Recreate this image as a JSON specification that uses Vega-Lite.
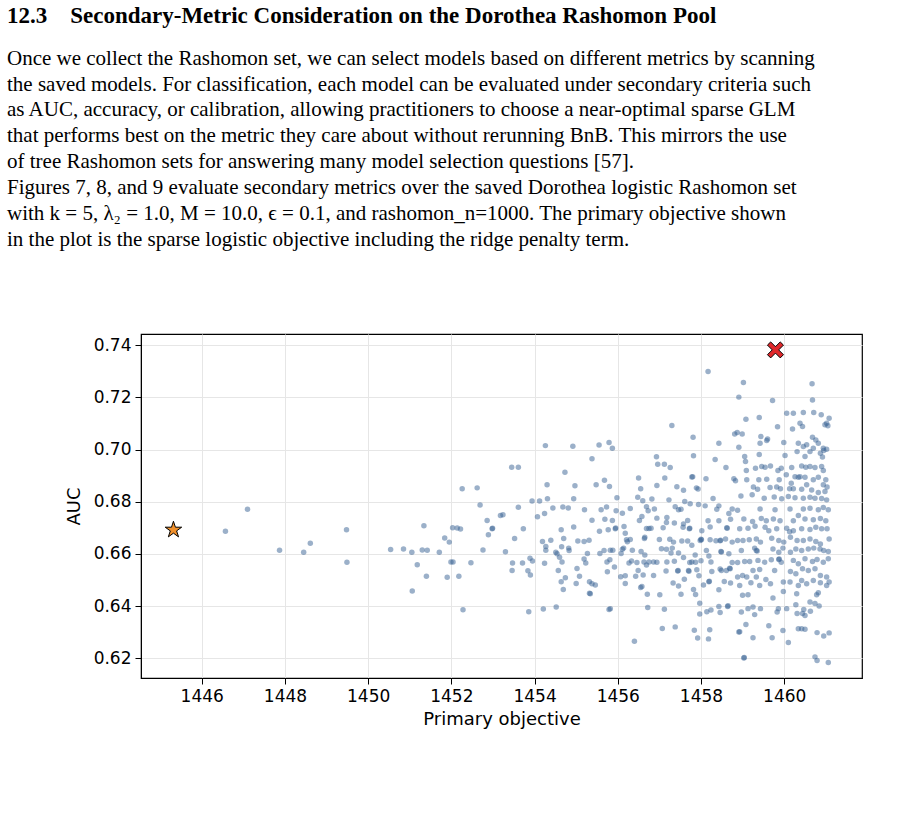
{
  "$schema": "https://vega.github.io/schema/vega-lite/v6.json",
  "background": "white",
  "padding": {"left": 7, "top": 4, "right": 5, "bottom": 5},
  "width": 721,
  "height": 344,
  "title": {
    "text": "12.3\u00a0\u00a0\u00a0\u00a0Secondary-Metric Consideration on the Dorothea Rashomon Pool",
    "subtitle": [
      "Once we collect the Rashomon set, we can select models based on different metrics by scanning",
      "the saved models. For classification, each model can be evaluated under secondary criteria such",
      "as AUC, accuracy, or calibration, allowing practitioners to choose a near-optimal sparse GLM",
      "that performs best on the metric they care about without rerunning BnB. This mirrors the use",
      "of tree Rashomon sets for answering many model selection questions [57].",
      "\u00a0\u00a0\u00a0\u00a0\u00a0\u00a0\u00a0Figures 7, 8, and 9 evaluate secondary metrics over the saved Dorothea logistic Rashomon set",
      "with k = 5, λ₂ = 1.0, M = 10.0, ϵ = 0.1, and rashomon_n=1000. The primary objective shown",
      "in the plot is the sparse logistic objective including the ridge penalty term."
    ],
    "anchor": "start",
    "frame": "group",
    "dx": -134,
    "offset": 84,
    "font": "Liberation Serif",
    "fontSize": 23,
    "fontWeight": "bold",
    "color": "black",
    "subtitleFont": "Liberation Serif",
    "subtitleFontSize": 21,
    "subtitleColor": "black",
    "subtitleLineHeight": 25.9,
    "subtitlePadding": 20
  },
  "config": {
    "view": {"stroke": "black", "strokeWidth": 1.2},
    "axis": {
      "labelFont": "DejaVu Sans",
      "titleFont": "DejaVu Sans",
      "labelFontSize": 17,
      "titleFontSize": 18,
      "titleFontWeight": "normal",
      "labelColor": "black",
      "titleColor": "black",
      "domainColor": "black",
      "tickColor": "black",
      "tickSize": 6,
      "gridColor": "#e6e6e6",
      "gridWidth": 1,
      "labelPadding": 4,
      "titlePadding": 6
    }
  },
  "datasets": {
    "pool": [
      {"objective":1446.57,"auc":0.6687},{"objective":1447.10,"auc":0.6771},{"objective":1447.87,"auc":0.6614},{"objective":1448.45,"auc":0.6606},
      {"objective":1448.61,"auc":0.6641},{"objective":1449.48,"auc":0.6692},{"objective":1449.49,"auc":0.6568},{"objective":1450.54,"auc":0.6617},
      {"objective":1450.85,"auc":0.6619},{"objective":1451.05,"auc":0.6606},{"objective":1451.18,"auc":0.6558},{"objective":1451.06,"auc":0.6458},
      {"objective":1451.34,"auc":0.6708},{"objective":1451.30,"auc":0.6615},{"objective":1451.42,"auc":0.6614},{"objective":1451.40,"auc":0.6514},
      {"objective":1451.71,"auc":0.6606},{"objective":1451.84,"auc":0.6661},{"objective":1451.95,"auc":0.6645},{"objective":1452.03,"auc":0.6700},
      {"objective":1452.14,"auc":0.6699},{"objective":1452.22,"auc":0.6695},{"objective":1451.99,"auc":0.6569},{"objective":1452.04,"auc":0.6569},
      {"objective":1451.90,"auc":0.6510},{"objective":1452.18,"auc":0.6514},{"objective":1452.28,"auc":0.6386},{"objective":1452.26,"auc":0.6850},
      {"objective":1452.62,"auc":0.6853},{"objective":1452.69,"auc":0.6787},{"objective":1452.86,"auc":0.6728},{"objective":1452.98,"auc":0.6696},
      {"objective":1452.99,"auc":0.6698},{"objective":1452.89,"auc":0.6673},{"objective":1452.76,"auc":0.6615},{"objective":1452.47,"auc":0.6566},
      {"objective":1453.18,"auc":0.6747},
      {"objective":1453.24,"auc":0.6750},{"objective":1453.30,"auc":0.6608},{"objective":1453.45,"auc":0.6932},{"objective":1453.61,"auc":0.6932},
      {"objective":1453.61,"auc":0.6779},{"objective":1453.73,"auc":0.6696},{"objective":1453.52,"auc":0.6659},{"objective":1453.47,"auc":0.6565},
      {"objective":1453.46,"auc":0.6536},{"objective":1453.71,"auc":0.6565},{"objective":1453.84,"auc":0.6535},{"objective":1453.90,"auc":0.6519},
      {"objective":1453.89,"auc":0.6583},{"objective":1453.95,"auc":0.6573},{"objective":1453.94,"auc":0.6803},{"objective":1453.86,"auc":0.6378},
      {"objective":1454.12,"auc":0.6803},{"objective":1454.26,"auc":0.7015},{"objective":1454.30,"auc":0.6865},{"objective":1454.31,"auc":0.6811},
      {"objective":1454.07,"auc":0.6742},{"objective":1454.24,"auc":0.6755},{"objective":1454.44,"auc":0.6776},{"objective":1454.19,"auc":0.6647},
      {"objective":1454.27,"auc":0.6628},{"objective":1454.27,"auc":0.6614},{"objective":1454.39,"auc":0.6652},{"objective":1454.24,"auc":0.6564},
      {"objective":1454.21,"auc":0.6389},{"objective":1454.52,"auc":0.6396},{"objective":1454.51,"auc":0.6606},{"objective":1454.54,"auc":0.6600},
      {"objective":1454.64,"auc":0.6692},{"objective":1454.70,"auc":0.6659},{"objective":1454.65,"auc":0.6627},{"objective":1454.60,"auc":0.6587},
      {"objective":1454.66,"auc":0.6569},{"objective":1454.57,"auc":0.6536},{"objective":1454.73,"auc":0.6913},{"objective":1454.68,"auc":0.6780},
      {"objective":1454.81,"auc":0.6776},{"objective":1454.74,"auc":0.6508},{"objective":1454.64,"auc":0.6493},{"objective":1454.69,"auc":0.6463},
      {"objective":1454.82,"auc":0.6622},{"objective":1454.83,"auc":0.6613},{"objective":1454.92,"auc":0.7013},{"objective":1454.97,"auc":0.6861},
      {"objective":1454.94,"auc":0.6811},{"objective":1454.94,"auc":0.6703},{"objective":1455.04,"auc":0.6649},{"objective":1455.19,"auc":0.6647},
      {"objective":1455.31,"auc":0.6652},{"objective":1455.27,"auc":0.6601},{"objective":1455.19,"auc":0.6580},{"objective":1455.23,"auc":0.6565},
      {"objective":1455.02,"auc":0.6544},{"objective":1455.08,"auc":0.6514},{"objective":1455.00,"auc":0.6486},{"objective":1455.20,"auc":0.6769},
      {"objective":1455.38,"auc":0.6965},{"objective":1455.55,"auc":0.7017},{"objective":1455.79,"auc":0.7027},{"objective":1455.87,"auc":0.7005},
      {"objective":1455.48,"auc":0.6865},{"objective":1455.68,"auc":0.6882},{"objective":1455.80,"auc":0.6858},{"objective":1455.38,"auc":0.6729},
      {"objective":1455.60,"auc":0.6769},{"objective":1455.73,"auc":0.6780},{"objective":1455.69,"auc":0.6733},{"objective":1455.56,"auc":0.6687},
      {"objective":1455.77,"auc":0.6692},{"objective":1455.87,"auc":0.6728},{"objective":1455.94,"auc":0.6696},{"objective":1455.95,"auc":0.6699},
      {"objective":1455.98,"auc":0.6815},{"objective":1455.96,"auc":0.6765},{"objective":1456.11,"auc":0.6756},{"objective":1456.15,"auc":0.6705},
      {"objective":1456.30,"auc":0.6774},{"objective":1455.57,"auc":0.6601},{"objective":1455.67,"auc":0.6613},{"objective":1455.82,"auc":0.6614},
      {"objective":1455.88,"auc":0.6614},{"objective":1455.81,"auc":0.6577},{"objective":1455.74,"auc":0.6569},{"objective":1455.92,"auc":0.6550},
      {"objective":1455.75,"auc":0.6531},{"objective":1456.08,"auc":0.6601},{"objective":1456.11,"auc":0.6618},{"objective":1456.14,"auc":0.6622},
      {"objective":1456.21,"auc":0.6654},{"objective":1456.23,"auc":0.6646},{"objective":1456.18,"auc":0.6679},{"objective":1456.30,"auc":0.6655},
      {"objective":1456.35,"auc":0.6614},{"objective":1456.27,"auc":0.6565},{"objective":1456.33,"auc":0.6573},{"objective":1456.07,"auc":0.6512},
      {"objective":1456.18,"auc":0.6516},{"objective":1456.18,"auc":0.6486},{"objective":1455.32,"auc":0.6493},{"objective":1455.38,"auc":0.6485},
      {"objective":1455.46,"auc":0.6481},{"objective":1455.32,"auc":0.6449},{"objective":1455.34,"auc":0.6447},{"objective":1455.79,"auc":0.6387},
      {"objective":1455.82,"auc":0.6390},{"objective":1456.40,"auc":0.6265},{"objective":1456.50,"auc":0.6891},{"objective":1456.55,"auc":0.6850},
      {"objective":1456.48,"auc":0.6817},{"objective":1456.60,"auc":0.6804},{"objective":1456.69,"auc":0.6781},{"objective":1456.73,"auc":0.6765},
      {"objective":1456.52,"auc":0.6728},{"objective":1456.58,"auc":0.6743},{"objective":1456.64,"auc":0.6659},{"objective":1456.65,"auc":0.6664},
      {"objective":1456.69,"auc":0.6697},{"objective":1456.75,"auc":0.6697},{"objective":1456.56,"auc":0.6609},{"objective":1456.65,"auc":0.6596},
      {"objective":1456.63,"auc":0.6569},{"objective":1456.69,"auc":0.6557},{"objective":1456.75,"auc":0.6569},{"objective":1456.46,"auc":0.6567},
      {"objective":1456.49,"auc":0.6536},{"objective":1456.43,"auc":0.6514},{"objective":1456.61,"auc":0.6519},{"objective":1456.55,"auc":0.6471},
      {"objective":1456.58,"auc":0.6475},{"objective":1456.71,"auc":0.6445},{"objective":1456.72,"auc":0.6394},
      {"objective":1458.17,"auc":0.7299},{"objective":1458.91,"auc":0.7201},{"objective":1457.30,"auc":0.7092},{"objective":1457.81,"auc":0.7047},
      {"objective":1458.43,"auc":0.7024},{"objective":1458.81,"auc":0.7060},{"objective":1458.87,"auc":0.7065},{"objective":1458.91,"auc":0.7009},
      {"objective":1456.93,"auc":0.6972},{"objective":1456.96,"auc":0.6944},{"objective":1457.12,"auc":0.6944},{"objective":1457.26,"auc":0.6931},
      {"objective":1457.13,"auc":0.6891},{"objective":1456.94,"auc":0.6862},{"objective":1457.82,"auc":0.6976},{"objective":1458.34,"auc":0.6962},
      {"objective":1458.60,"auc":0.6931},{"objective":1457.78,"auc":0.6895},{"objective":1457.80,"auc":0.6896},{"objective":1458.12,"auc":0.6888},
      {"objective":1457.42,"auc":0.6857},{"objective":1457.58,"auc":0.6844},{"objective":1457.89,"auc":0.6853},{"objective":1457.93,"auc":0.6849},
      {"objective":1458.79,"auc":0.6888},{"objective":1458.83,"auc":0.6880},{"objective":1456.82,"auc":0.6810},{"objective":1457.23,"auc":0.6807},
      {"objective":1457.38,"auc":0.6781},{"objective":1457.61,"auc":0.6801},{"objective":1457.74,"auc":0.6792},{"objective":1457.94,"auc":0.6789},
      {"objective":1458.10,"auc":0.6784},{"objective":1458.29,"auc":0.6812},{"objective":1458.43,"auc":0.6784},{"objective":1458.38,"auc":0.6771},
      {"objective":1456.88,"auc":0.6772},{"objective":1457.46,"auc":0.6769},{"objective":1457.52,"auc":0.6771},{"objective":1458.75,"auc":0.6772},
      {"objective":1458.67,"auc":0.6755},{"objective":1458.88,"auc":0.6767},{"objective":1456.94,"auc":0.6737},{"objective":1457.18,"auc":0.6739},
      {"objective":1457.68,"auc":0.6728},{"objective":1457.36,"auc":0.6718},{"objective":1457.58,"auc":0.6715},{"objective":1457.72,"auc":0.6696},
      {"objective":1457.73,"auc":0.6698},{"objective":1456.80,"auc":0.6698},{"objective":1457.09,"auc":0.6700},{"objective":1457.17,"auc":0.6720},
      {"objective":1457.57,"auc":0.6702},{"objective":1458.17,"auc":0.6727},{"objective":1458.22,"auc":0.6703},{"objective":1458.43,"auc":0.6727},
      {"objective":1458.62,"auc":0.6700},{"objective":1458.63,"auc":0.6698},{"objective":1458.71,"auc":0.6733},{"objective":1458.02,"auc":0.6689},
      {"objective":1457.00,"auc":0.6655},{"objective":1457.25,"auc":0.6656},{"objective":1457.05,"auc":0.6620},{"objective":1457.17,"auc":0.6618},
      {"objective":1457.34,"auc":0.6645},{"objective":1457.31,"auc":0.6622},{"objective":1457.54,"auc":0.6649},{"objective":1457.68,"auc":0.6649},
      {"objective":1457.78,"auc":0.6633},{"objective":1457.98,"auc":0.6651},{"objective":1458.00,"auc":0.6656},{"objective":1458.01,"auc":0.6654},
      {"objective":1458.22,"auc":0.6654},{"objective":1458.36,"auc":0.6650},{"objective":1458.46,"auc":0.6650},{"objective":1458.47,"auc":0.6652},
      {"objective":1458.59,"auc":0.6657},{"objective":1458.75,"auc":0.6645},{"objective":1458.88,"auc":0.6651},{"objective":1456.86,"auc":0.6569},
      {"objective":1456.94,"auc":0.6568},{"objective":1457.18,"auc":0.6569},{"objective":1457.36,"auc":0.6572},{"objective":1457.28,"auc":0.6603},
      {"objective":1457.46,"auc":0.6603},{"objective":1457.58,"auc":0.6586},{"objective":1457.73,"auc":0.6567},{"objective":1457.78,"auc":0.6569},
      {"objective":1457.87,"auc":0.6568},{"objective":1458.00,"auc":0.6574},{"objective":1457.86,"auc":0.6596},{"objective":1458.13,"auc":0.6613},
      {"objective":1458.19,"auc":0.6592},{"objective":1458.24,"auc":0.6569},{"objective":1458.48,"auc":0.6609},{"objective":1458.49,"auc":0.6607},
      {"objective":1458.67,"auc":0.6600},{"objective":1458.75,"auc":0.6567},{"objective":1458.88,"auc":0.6567},{"objective":1456.86,"auc":0.6517},
      {"objective":1457.16,"auc":0.6534},{"objective":1457.44,"auc":0.6534},{"objective":1457.45,"auc":0.6536},{"objective":1457.70,"auc":0.6536},
      {"objective":1457.71,"auc":0.6533},{"objective":1457.60,"auc":0.6503},{"objective":1457.33,"auc":0.6488},{"objective":1457.46,"auc":0.6477},
      {"objective":1457.90,"auc":0.6539},{"objective":1457.95,"auc":0.6516},{"objective":1458.06,"auc":0.6481},{"objective":1458.19,"auc":0.6493},
      {"objective":1458.20,"auc":0.6495},{"objective":1458.26,"auc":0.6532},{"objective":1458.46,"auc":0.6542},{"objective":1458.49,"auc":0.6536},
      {"objective":1458.61,"auc":0.6536},{"objective":1458.69,"auc":0.6545},{"objective":1458.70,"auc":0.6543},{"objective":1458.71,"auc":0.6488},
      {"objective":1458.56,"auc":0.6494},{"objective":1458.43,"auc":0.6462},{"objective":1457.82,"auc":0.6463},{"objective":1458.88,"auc":0.6511},
      {"objective":1457.01,"auc":0.6443},{"objective":1457.52,"auc":0.6445},{"objective":1457.87,"auc":0.6444},{"objective":1457.12,"auc":0.6388},
      {"objective":1457.97,"auc":0.6411},{"objective":1457.97,"auc":0.6369},{"objective":1458.14,"auc":0.6378},{"objective":1458.24,"auc":0.6385},
      {"objective":1458.43,"auc":0.6398},{"objective":1458.46,"auc":0.6375},{"objective":1458.64,"auc":0.6398},{"objective":1458.65,"auc":0.6401},
      {"objective":1457.07,"auc":0.6314},{"objective":1457.38,"auc":0.6320},{"objective":1457.84,"auc":0.6307},{"objective":1457.92,"auc":0.6277},
      {"objective":1458.21,"auc":0.6309},{"objective":1458.18,"auc":0.6274},{"objective":1458.91,"auc":0.6300},
      {"objective":1459.02,"auc":0.7257},{"objective":1459.72,"auc":0.7188},{"objective":1460.06,"auc":0.7139},{"objective":1460.22,"auc":0.7139},
      {"objective":1459.08,"auc":0.7116},{"objective":1459.40,"auc":0.7123},{"objective":1459.84,"auc":0.7087},{"objective":1460.20,"auc":0.7079},
      {"objective":1458.99,"auc":0.7060},{"objective":1459.44,"auc":0.7050},{"objective":1459.60,"auc":0.7040},{"objective":1459.42,"auc":0.7024},
      {"objective":1459.99,"auc":0.7027},{"objective":1460.34,"auc":0.7024},{"objective":1459.58,"auc":0.7035},{"objective":1459.40,"auc":0.6981},
      {"objective":1459.05,"auc":0.6973},{"objective":1459.07,"auc":0.6954},{"objective":1460.02,"auc":0.6977},{"objective":1460.31,"auc":0.6992},
      {"objective":1459.09,"auc":0.6920},{"objective":1459.31,"auc":0.6928},{"objective":1459.46,"auc":0.6935},{"objective":1459.54,"auc":0.6932},
      {"objective":1459.67,"auc":0.6937},{"objective":1459.93,"auc":0.6928},{"objective":1460.18,"auc":0.6931},{"objective":1459.85,"auc":0.6920},
      {"objective":1459.10,"auc":0.6884},{"objective":1459.39,"auc":0.6884},{"objective":1459.58,"auc":0.6886},{"objective":1459.88,"auc":0.6884},
      {"objective":1460.05,"auc":0.6903},{"objective":1460.17,"auc":0.6871},{"objective":1460.26,"auc":0.6896},{"objective":1460.34,"auc":0.6894},
      {"objective":1459.26,"auc":0.6856},{"objective":1459.36,"auc":0.6848},{"objective":1459.66,"auc":0.6854},{"objective":1459.82,"auc":0.6856},
      {"objective":1459.91,"auc":0.6850},{"objective":1460.13,"auc":0.6850},{"objective":1460.22,"auc":0.6850},{"objective":1458.96,"auc":0.6822},
      {"objective":1459.23,"auc":0.6827},{"objective":1459.52,"auc":0.6813},{"objective":1459.76,"auc":0.6818},{"objective":1459.94,"auc":0.6811},
      {"objective":1460.10,"auc":0.6820},{"objective":1460.26,"auc":0.6815},
      {"objective":1459.42,"auc":0.6772},{"objective":1459.78,"auc":0.6769},{"objective":1460.14,"auc":0.6772},{"objective":1459.03,"auc":0.6734},
      {"objective":1459.24,"auc":0.6724},{"objective":1459.45,"auc":0.6736},{"objective":1459.57,"auc":0.6727},{"objective":1459.74,"auc":0.6734},
      {"objective":1459.90,"auc":0.6727},{"objective":1460.22,"auc":0.6727},{"objective":1460.34,"auc":0.6747},{"objective":1458.93,"auc":0.6696},
      {"objective":1459.13,"auc":0.6698},{"objective":1459.30,"auc":0.6706},{"objective":1459.54,"auc":0.6702},{"objective":1459.63,"auc":0.6689},
      {"objective":1459.82,"auc":0.6696},{"objective":1460.06,"auc":0.6698},{"objective":1460.13,"auc":0.6685},{"objective":1460.22,"auc":0.6689},
      {"objective":1459.01,"auc":0.6651},{"objective":1459.16,"auc":0.6654},{"objective":1459.33,"auc":0.6657},{"objective":1459.43,"auc":0.6645},
      {"objective":1459.70,"auc":0.6660},{"objective":1459.87,"auc":0.6651},{"objective":1459.99,"auc":0.6645},{"objective":1460.15,"auc":0.6664},
      {"objective":1460.31,"auc":0.6651},{"objective":1458.97,"auc":0.6613},{"objective":1459.29,"auc":0.6622},{"objective":1459.33,"auc":0.6613},
      {"objective":1459.35,"auc":0.6611},{"objective":1459.73,"auc":0.6619},{"objective":1459.87,"auc":0.6606},{"objective":1459.97,"auc":0.6622},
      {"objective":1460.15,"auc":0.6606},{"objective":1460.28,"auc":0.6619},{"objective":1459.05,"auc":0.6571},{"objective":1459.17,"auc":0.6571},
      {"objective":1459.37,"auc":0.6575},{"objective":1459.53,"auc":0.6568},{"objective":1459.69,"auc":0.6577},{"objective":1459.87,"auc":0.6578},
      {"objective":1459.88,"auc":0.6580},{"objective":1459.93,"auc":0.6568},{"objective":1460.22,"auc":0.6575},{"objective":1460.34,"auc":0.6562},
      {"objective":1459.25,"auc":0.6536},{"objective":1459.41,"auc":0.6540},{"objective":1459.77,"auc":0.6536},{"objective":1460.15,"auc":0.6532},
      {"objective":1460.28,"auc":0.6524},{"objective":1459.00,"auc":0.6517},{"objective":1459.10,"auc":0.6511},{"objective":1459.33,"auc":0.6511},
      {"objective":1459.56,"auc":0.6502},{"objective":1459.67,"auc":0.6485},{"objective":1459.98,"auc":0.6492},{"objective":1460.14,"auc":0.6492},
      {"objective":1460.34,"auc":0.6479},{"objective":1458.93,"auc":0.6479},{"objective":1459.20,"auc":0.6489},{"objective":1459.41,"auc":0.6479},
      {"objective":1459.00,"auc":0.6441},{"objective":1459.13,"auc":0.6443},{"objective":1459.73,"auc":0.6431},{"objective":1459.98,"auc":0.6456},
      {"objective":1460.30,"auc":0.6447},{"objective":1458.97,"auc":0.6377},{"objective":1459.13,"auc":0.6390},{"objective":1459.25,"auc":0.6396},
      {"objective":1459.29,"auc":0.6367},{"objective":1459.43,"auc":0.6390},{"objective":1459.83,"auc":0.6377},{"objective":1459.86,"auc":0.6390},
      {"objective":1460.06,"auc":0.6390},{"objective":1460.28,"auc":0.6405},{"objective":1460.31,"auc":0.6371},{"objective":1459.08,"auc":0.6329},
      {"objective":1459.63,"auc":0.6324},{"objective":1458.93,"auc":0.6301},{"objective":1459.97,"auc":0.6306},{"objective":1460.34,"auc":0.6313},
      {"objective":1459.25,"auc":0.6278},{"objective":1459.71,"auc":0.6278},{"objective":1460.10,"auc":0.6260},{"objective":1459.03,"auc":0.6201},
      {"objective":1459.04,"auc":0.6203},
      {"objective":1460.67,"auc":0.7252},{"objective":1460.68,"auc":0.7190},{"objective":1460.46,"auc":0.7142},{"objective":1460.71,"auc":0.7142},
      {"objective":1460.89,"auc":0.7133},{"objective":1461.08,"auc":0.7120},{"objective":1461.02,"auc":0.7101},{"objective":1460.98,"auc":0.7095},
      {"objective":1461.05,"auc":0.7091},{"objective":1460.38,"auc":0.7101},{"objective":1460.44,"auc":0.7088},{"objective":1460.68,"auc":0.7047},
      {"objective":1460.76,"auc":0.7037},{"objective":1460.82,"auc":0.7024},{"objective":1460.54,"auc":0.7018},{"objective":1460.46,"auc":0.7012},
      {"objective":1460.70,"auc":0.7005},{"objective":1460.94,"auc":0.7005},{"objective":1461.02,"auc":0.7001},{"objective":1460.62,"auc":0.6992},
      {"objective":1460.87,"auc":0.6986},{"objective":1460.95,"auc":0.6996},{"objective":1460.50,"auc":0.6973},{"objective":1460.92,"auc":0.6971},
      {"objective":1460.42,"auc":0.6937},{"objective":1460.52,"auc":0.6932},{"objective":1460.62,"auc":0.6935},{"objective":1460.74,"auc":0.6931},
      {"objective":1460.90,"auc":0.6935},{"objective":1460.94,"auc":0.6920},{"objective":1460.38,"auc":0.6896},{"objective":1460.50,"auc":0.6894},
      {"objective":1460.70,"auc":0.6884},{"objective":1460.82,"auc":0.6894},{"objective":1461.00,"auc":0.6884},{"objective":1460.94,"auc":0.6865},
      {"objective":1461.03,"auc":0.6856},{"objective":1460.54,"auc":0.6865},{"objective":1460.42,"auc":0.6848},{"objective":1460.66,"auc":0.6845},
      {"objective":1460.82,"auc":0.6835},{"objective":1460.98,"auc":0.6839},{"objective":1460.46,"auc":0.6813},{"objective":1460.62,"auc":0.6817},
      {"objective":1460.74,"auc":0.6813},{"objective":1460.90,"auc":0.6812},{"objective":1461.02,"auc":0.6807},
      {"objective":1460.46,"auc":0.6772},{"objective":1460.62,"auc":0.6775},{"objective":1460.82,"auc":0.6769},{"objective":1460.94,"auc":0.6778},
      {"objective":1461.06,"auc":0.6769},{"objective":1460.50,"auc":0.6734},{"objective":1460.70,"auc":0.6731},{"objective":1460.87,"auc":0.6736},
      {"objective":1461.00,"auc":0.6727},{"objective":1460.42,"auc":0.6696},{"objective":1460.62,"auc":0.6693},{"objective":1460.76,"auc":0.6702},
      {"objective":1460.90,"auc":0.6696},{"objective":1461.03,"auc":0.6696},{"objective":1461.08,"auc":0.6657},{"objective":1460.46,"auc":0.6651},
      {"objective":1460.62,"auc":0.6657},{"objective":1460.76,"auc":0.6647},{"objective":1460.87,"auc":0.6638},{"objective":1460.42,"auc":0.6613},
      {"objective":1460.58,"auc":0.6619},{"objective":1460.71,"auc":0.6622},{"objective":1460.86,"auc":0.6619},{"objective":1460.95,"auc":0.6613},
      {"objective":1461.06,"auc":0.6609},{"objective":1460.50,"auc":0.6581},{"objective":1460.68,"auc":0.6571},{"objective":1460.79,"auc":0.6578},
      {"objective":1460.94,"auc":0.6568},{"objective":1461.06,"auc":0.6581},{"objective":1460.44,"auc":0.6543},{"objective":1460.58,"auc":0.6536},
      {"objective":1460.74,"auc":0.6543},{"objective":1460.87,"auc":0.6517},{"objective":1461.02,"auc":0.6511},{"objective":1461.08,"auc":0.6492},
      {"objective":1460.42,"auc":0.6498},{"objective":1460.54,"auc":0.6485},{"objective":1460.70,"auc":0.6498},{"objective":1460.87,"auc":0.6489},
      {"objective":1461.02,"auc":0.6479},{"objective":1460.78,"auc":0.6443},{"objective":1460.82,"auc":0.6451},{"objective":1460.62,"auc":0.6415},
      {"objective":1460.74,"auc":0.6410},{"objective":1460.84,"auc":0.6400},{"objective":1460.47,"auc":0.6387},{"objective":1460.63,"auc":0.6380},
      {"objective":1460.44,"auc":0.6371},{"objective":1460.50,"auc":0.6364},{"objective":1460.42,"auc":0.6313},{"objective":1460.50,"auc":0.6311},
      {"objective":1460.79,"auc":0.6298},{"objective":1460.95,"auc":0.6285},{"objective":1461.08,"auc":0.6297},{"objective":1460.74,"auc":0.6205},
      {"objective":1460.79,"auc":0.6191},{"objective":1461.06,"auc":0.6183}
    ]
  },
  "encoding": {
    "x": {
      "field": "objective",
      "type": "quantitative",
      "title": "Primary objective",
      "scale": {"domain": [1444.54, 1461.87], "nice": false, "zero": false},
      "axis": {"values": [1446, 1448, 1450, 1452, 1454, 1456, 1458, 1460], "format": "d"}
    },
    "y": {
      "field": "auc",
      "type": "quantitative",
      "title": "AUC",
      "scale": {"domain": [0.6124, 0.7443], "nice": false, "zero": false},
      "axis": {"values": [0.62, 0.64, 0.66, 0.68, 0.70, 0.72, 0.74], "format": ".2f", "titlePadding": 10}
    }
  },
  "layer": [
    {
      "data": {"name": "pool"},
      "mark": {"type": "point", "shape": "circle", "filled": true, "color": "#386194", "size": 30, "opacity": 0.5, "strokeWidth": 0}
    },
    {
      "data": {"values": [{"objective": 1445.32, "auc": 0.6692}]},
      "mark": {"type": "point", "shape": "M0,-1L0.225,-0.309L0.951,-0.309L0.363,0.118L0.588,0.809L0,0.382L-0.588,0.809L-0.363,0.118L-0.951,-0.309L-0.225,-0.309L0,-1", "filled": true, "fill": "#f0902c", "size": 300, "stroke": "black", "strokeWidth": 1, "opacity": 1}
    },
    {
      "data": {"values": [{"objective": 1459.79, "auc": 0.7382}]},
      "mark": {"type": "point", "shape": "M-1,-0.6L-0.6,-1L0,-0.4L0.6,-1L1,-0.6L0.4,0L1,0.6L0.6,1L0,0.4L-0.6,1L-1,0.6L-0.4,0L-1,-0.6", "filled": true, "fill": "#e0282b", "size": 256, "stroke": "black", "strokeWidth": 1, "opacity": 1}
    },
    {
      "data": {"values": [{"caption": "Dorothea, eps=0.1, pool size=1,000"}]},
      "mark": {
        "type": "text",
        "text": ["Dorothea, eps=0.1, pool size=1,000", "Primary objective vs AUC"],
        "font": "DejaVu Sans",
        "fontSize": 19.5,
        "lineHeight": 23,
        "align": "center",
        "baseline": "bottom",
        "dy": -5,
        "color": "black"
      },
      "encoding": {
        "x": {"datum": 1453.205, "type": "quantitative"},
        "y": {"datum": 0.7443, "type": "quantitative"}
      }
    },
    {
      "data": {"values": [{"entry": "All Rashomon solutions"}]},
      "mark": {"type": "point", "shape": "circle", "filled": true, "color": "#386194", "size": 30, "opacity": 0.5, "strokeWidth": 0},
      "encoding": {
        "x": {"datum": 1444.0, "type": "quantitative"},
        "y": {"datum": 0.5824, "type": "quantitative"}
      }
    },
    {
      "data": {"values": [{"entry": "Best Primary objective (min)"}]},
      "mark": {"type": "point", "shape": "M0,-1L0.225,-0.309L0.951,-0.309L0.363,0.118L0.588,0.809L0,0.382L-0.588,0.809L-0.363,0.118L-0.951,-0.309L-0.225,-0.309L0,-1", "filled": true, "fill": "#f0902c", "size": 300, "stroke": "black", "strokeWidth": 1, "opacity": 1},
      "encoding": {
        "x": {"datum": 1450.11, "type": "quantitative"},
        "y": {"datum": 0.5824, "type": "quantitative"}
      }
    },
    {
      "data": {"values": [{"entry": "Best AUC (max)"}]},
      "mark": {"type": "point", "shape": "M-1,-0.6L-0.6,-1L0,-0.4L0.6,-1L1,-0.6L0.4,0L1,0.6L0.6,1L0,0.4L-0.6,1L-1,0.6L-0.4,0L-1,-0.6", "filled": true, "fill": "#e0282b", "size": 256, "stroke": "black", "strokeWidth": 1, "opacity": 1},
      "encoding": {
        "x": {"datum": 1457.16, "type": "quantitative"},
        "y": {"datum": 0.5824, "type": "quantitative"}
      }
    },
    {
      "data": {"values": [{"entry": "All Rashomon solutions"}]},
      "mark": {"type": "text", "align": "left", "baseline": "middle", "font": "DejaVu Sans", "fontSize": 15.3, "color": "black"},
      "encoding": {
        "x": {"datum": 1444.69, "type": "quantitative"},
        "y": {"datum": 0.5824, "type": "quantitative"},
        "text": {"field": "entry"}
      }
    },
    {
      "data": {"values": [{"entry": "Best Primary objective (min)"}]},
      "mark": {"type": "text", "align": "left", "baseline": "middle", "font": "DejaVu Sans", "fontSize": 15.3, "color": "black"},
      "encoding": {
        "x": {"datum": 1450.78, "type": "quantitative"},
        "y": {"datum": 0.5824, "type": "quantitative"},
        "text": {"field": "entry"}
      }
    },
    {
      "data": {"values": [{"entry": "Best AUC (max)"}]},
      "mark": {"type": "text", "align": "left", "baseline": "middle", "font": "DejaVu Sans", "fontSize": 15.3, "color": "black"},
      "encoding": {
        "x": {"datum": 1457.85, "type": "quantitative"},
        "y": {"datum": 0.5824, "type": "quantitative"},
        "text": {"field": "entry"}
      }
    }
  ]
}
